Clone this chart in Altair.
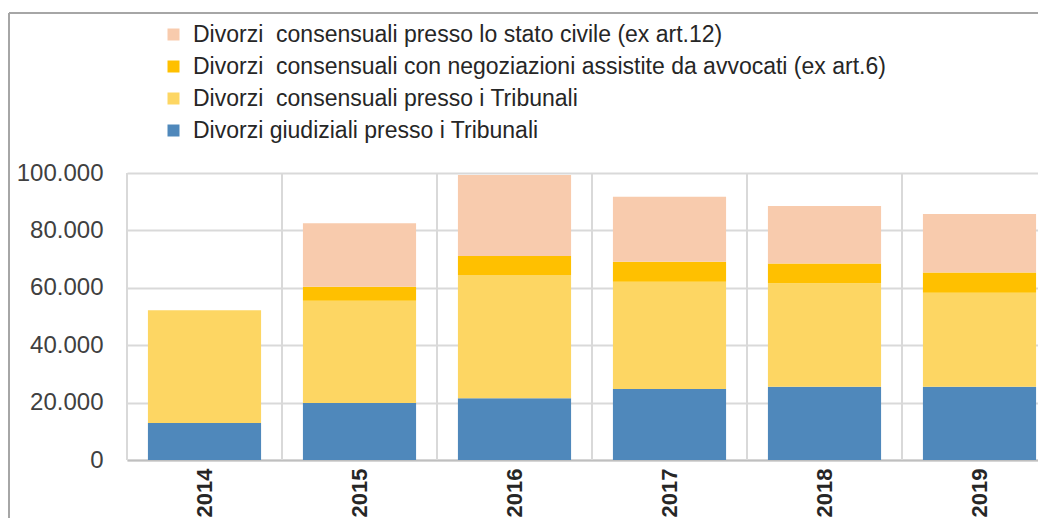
import altair as alt
import pandas as pd

# ---- data ----
years = ["2014", "2015", "2016", "2017", "2018", "2019"]
giudiziali_tribunali = [12900, 19900, 21500, 24700, 25500, 25500]
consensuali_tribunali = [39300, 35600, 43000, 37400, 36100, 32800]
negoziazioni_art6 = [0, 4900, 6600, 7000, 6900, 7000]
stato_civile_art12 = [0, 22100, 28200, 22600, 20000, 20400]

series_labels = [
    "Divorzi\u00a0 consensuali presso lo stato civile (ex art.12)",
    "Divorzi\u00a0 consensuali con negoziazioni assistite da avvocati (ex art.6)",
    "Divorzi\u00a0 consensuali presso i Tribunali",
    "Divorzi giudiziali presso i Tribunali",
]
series_colors = ["#f8cbad", "#ffc000", "#fdd663", "#4f88bb"]
y_ticks = [0, 20000, 40000, 60000, 80000, 100000]

# stacking order: giudiziali at the bottom
stack_values = [giudiziali_tribunali, consensuali_tribunali, negoziazioni_art6, stato_civile_art12]
stack_labels = [series_labels[3], series_labels[2], series_labels[1], series_labels[0]]

rows = []
for k, (lab, vals) in enumerate(zip(stack_labels, stack_values)):
    for yr, v in zip(years, vals):
        rows.append({"anno": yr, "tipo": lab, "valore": v, "ordine": k})
df = pd.DataFrame(rows)

W, H = 911, 287
SANS = "Liberation Sans, Arial, sans-serif"

x_scale = alt.Scale(domain=years, range=[0, 930], paddingInner=0, paddingOuter=0)

bars = alt.Chart(df).mark_bar(width={"band": 0.73}).encode(
    x=alt.X(
        "anno:N",
        sort=years,
        scale=x_scale,
        axis=alt.Axis(
            title=None,
            ticks=False,
            grid=False,
            domain=True,
            domainColor="#bfbfbf",
            domainWidth=2,
            labelAngle=270,
            labelFont=SANS,
            labelFontSize=22,
            labelFontWeight="bold",
            labelColor="#262626",
            labelPadding=8,
        ),
    ),
    y=alt.Y(
        "valore:Q",
        stack="zero",
        scale=alt.Scale(domain=[0, 100000], nice=False),
        axis=alt.Axis(
            title=None,
            values=y_ticks,
            ticks=False,
            domain=False,
            grid=True,
            gridColor="#d9d9d9",
            gridWidth=2,
            labelFont=SANS,
            labelFontSize=24,
            labelColor="#404040",
            labelPadding=24,
            labelExpr="replace(format(datum.value, ','), ',', '.')",
        ),
    ),
    color=alt.Color(
        "tipo:N",
        scale=alt.Scale(domain=series_labels, range=series_colors),
        legend=alt.Legend(
            title=None,
            orient="none",
            legendX=35,
            legendY=-150,
            direction="vertical",
            symbolType="square",
            symbolSize=144,
            symbolStrokeWidth=0,
            labelFont=SANS,
            labelFontSize=23,
            labelColor="#262626",
            labelLimit=900,
            labelOffset=8,
            rowPadding=8,
            padding=0,
        ),
    ),
    order=alt.Order("ordine:Q", sort="ascending"),
)

vgrid = alt.Chart(pd.DataFrame({"anno": years})).mark_rule(
    color="#d9d9d9", strokeWidth=2
).encode(
    x=alt.X("anno:N", sort=years, scale=x_scale, bandPosition=0),
    y=alt.value(0),
    y2=alt.value(H),
)

frame_src = pd.DataFrame({"f": [0]})
frame_top = alt.Chart(frame_src).mark_rule(color="#a6a6a6", strokeWidth=2).encode(
    x=alt.value(-118), x2=alt.value(930), y=alt.value(-160)
)
frame_left = alt.Chart(frame_src).mark_rule(color="#a6a6a6", strokeWidth=2).encode(
    x=alt.value(-118), y=alt.value(-160), y2=alt.value(H + 90)
)

chart = (
    alt.layer(vgrid, bars, frame_top, frame_left)
    .properties(
        width=W,
        height=H,
        autosize=alt.AutoSizeParams(type="none"),
        padding={"left": 119, "top": 165, "right": 0, "bottom": 58},
    )
    .configure_view(stroke=None)
)

chart.save("out.html", embed_options={"renderer": "svg", "actions": False})
